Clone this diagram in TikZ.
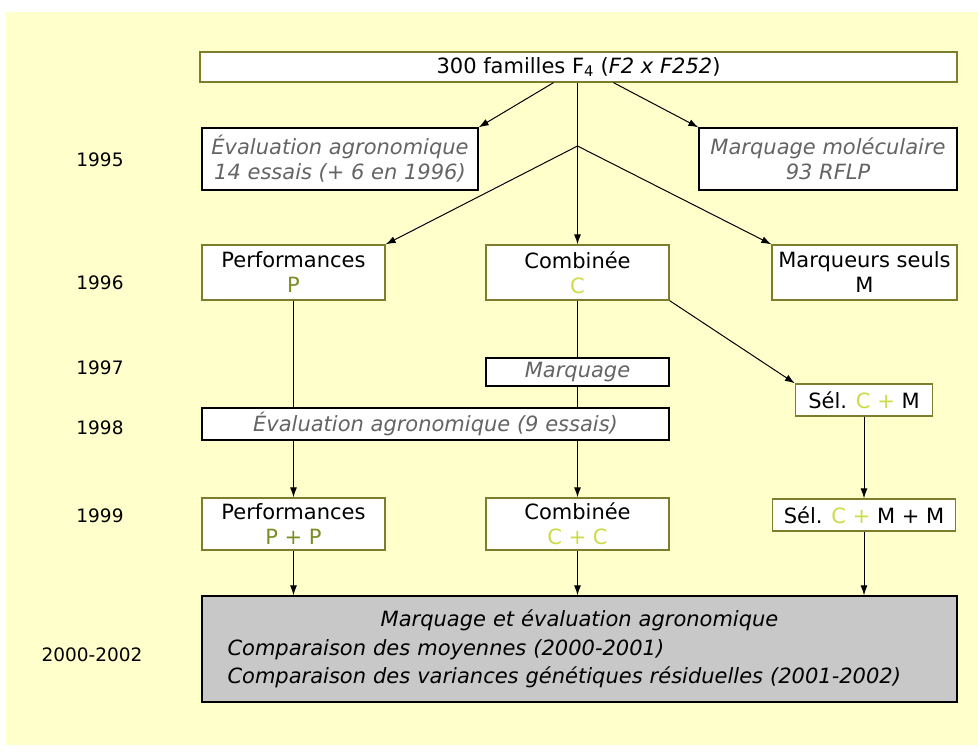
\documentclass[tikz,border=0pt]{standalone}
\usepackage{fontspec}
\setmainfont{DejaVu Sans}
\usetikzlibrary{arrows.meta}

\definecolor{fond}{RGB}{255,255,204}
\definecolor{cadre}{RGB}{125,125,45}
\definecolor{gristexte}{RGB}{100,100,100}
\definecolor{vertP}{RGB}{125,140,35}
\definecolor{jauneC}{RGB}{205,220,70}
\definecolor{grisfond}{RGB}{200,200,200}

\begin{document}
\begin{tikzpicture}[%
        x = 1pt, y = -1pt,
        > = {Latex[length=10pt, width=7pt]},
        line width = 1pt,
        texte/.style = {font = \fontsize{21}{25}\selectfont},
        boite/.style = {%
            texte, draw = cadre, fill = white, line width = 1.3pt,
            inner sep = 0pt, align = center
        },
        boitenoire/.style = {boite, draw = black},
        italgris/.style = {font = \fontsize{21}{25}\selectfont\itshape, text = gristexte},
        annee/.style = {font = \fontsize{18.5}{22}\selectfont}
    ]

        % Background and frame of the page.
        \useasboundingbox (0, 0) rectangle (978, 753);
        \fill[fond] (6, 12) rectangle (978, 745);

        % Boxes, from top to bottom.
        \node[boite, minimum width = 757pt, minimum height = 30pt] (top) at (578.5, 67)
            {300 familles F\textsubscript{4} (\textit{F2 x F252})};

        \node[boitenoire, italgris, minimum width = 276pt, minimum height = 62pt] (eval) at (340, 159)
            {Évaluation agronomique\\14 essais (+ 6 en 1996)};
        \node[boitenoire, italgris, minimum width = 258pt, minimum height = 62pt] (marqmol) at (828, 159)
            {Marquage moléculaire\\93 RFLP};

        \node[boite, minimum width = 183pt, minimum height = 55pt] (perf) at (293.5, 272.5)
            {Performances\\{\color{vertP}P}};
        \node[boite, minimum width = 183pt, minimum height = 55pt] (comb) at (577.5, 272.5)
            {Combinée\\{\color{jauneC}C}};
        \node[boite, minimum width = 185pt, minimum height = 55pt] (marq) at (864.5, 272.5)
            {Marqueurs seuls\\M};

        \node[boitenoire, italgris, minimum width = 183pt, minimum height = 28pt] (marquage) at (577.5, 372)
            {Marquage};
        \node[boite, minimum width = 137pt, minimum height = 32pt] (selcm) at (864, 400)
            {Sél. {\color{jauneC}C +} M};

        \node[boitenoire, italgris, minimum width = 467pt, minimum height = 32pt] (eval9) at (435.5, 424)
            {Évaluation agronomique (9 essais)};

        \node[boite, minimum width = 183pt, minimum height = 52pt] (pp) at (293.5, 524)
            {Performances\\{\color{vertP}P + P}};
        \node[boite, minimum width = 183pt, minimum height = 52pt] (cc) at (577.5, 524)
            {Combinée\\{\color{jauneC}C + C}};
        \node[boite, minimum width = 183pt, minimum height = 32pt] (selcmm) at (864, 515)
            {Sél. {\color{jauneC}C +} M + M};

        \node[boitenoire, fill = grisfond, minimum width = 755pt, minimum height = 106pt,
              text width = 704pt, align = left, font = \fontsize{21}{28.5}\selectfont\itshape] (gris) at (579.5, 649)
            {\makebox[704pt]{Marquage et évaluation agronomique}\\
             Comparaison des moyennes (2000-2001)\\
             Comparaison des variances génétiques résiduelles (2001-2002)};

        % Years.
        \node[annee] (a1995) at (100, 160) {1995};
        \node[annee] (a1996) at (100, 283) {1996};
        \node[annee] (a1997) at (100, 368) {1997};
        \node[annee] (a1998) at (100, 428) {1998};
        \node[annee] (a1999) at (100, 516) {1999};
        \node[annee] (a2000) at (92, 655)  {2000-2002};

        % Connectors.
        \coordinate (J) at (577.5, 146);
        \draw[->] ([xshift = -25pt]top.south) -- (eval.north east);
        \draw[->] ([xshift = 35pt]top.south) -- (marqmol.north west);
        \draw[->] (top.south -| comb.north) -- (comb.north);
        \draw[->] (J) -- (perf.north east);
        \draw[->] (J) -- (marq.north west);

        \draw (perf.south) -- (perf.south |- eval9.north);
        \draw (comb.south) -- (marquage.north);
        \draw (marquage.south) -- (marquage.south |- eval9.north);
        \draw[->] (comb.south east) -- (selcm.north west);

        \foreach \haut/\bas in {perf/pp, comb/cc}{%
            \draw[->] (\haut.south |- eval9.south) -- (\bas.north);
        }
        \draw[->] (selcm.south) -- (selcmm.north);

        \foreach \n in {pp, cc, selcmm}{%
            \draw[->] (\n.south) -- (\n.south |- gris.north);
        }
    \end{tikzpicture}
\end{document}
